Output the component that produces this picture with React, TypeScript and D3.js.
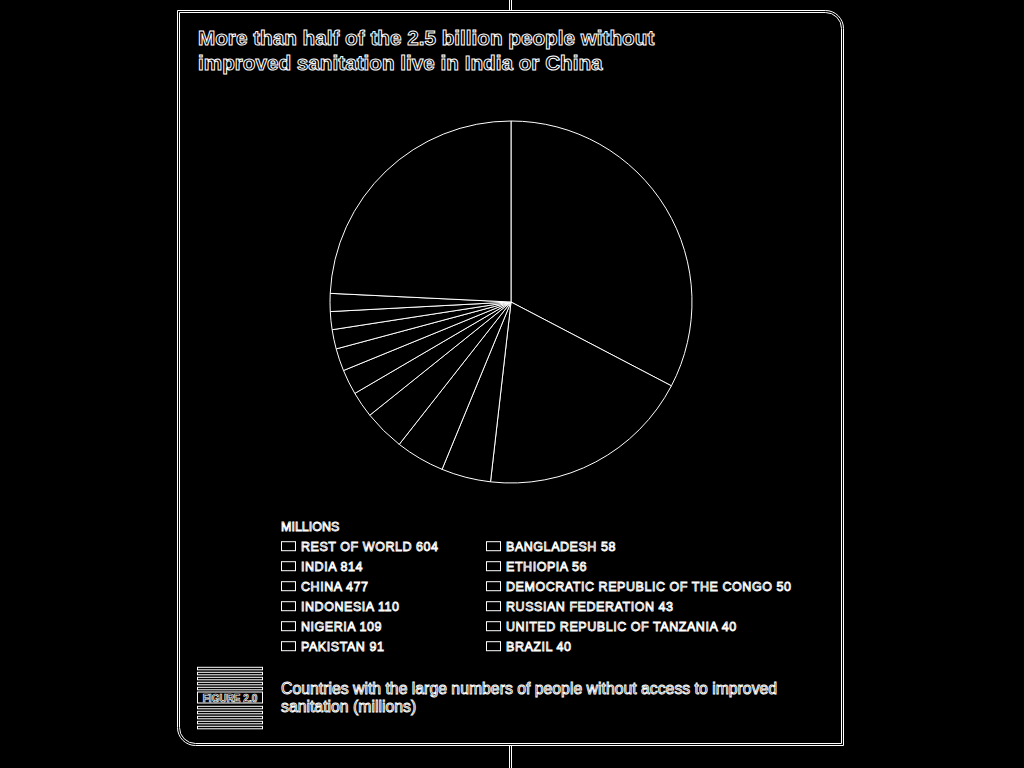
import React from "react";
import * as d3 from "d3";

const titleLines = [
  "More than half of the 2.5 billion people without",
  "improved sanitation live in India or China",
];
const countries = [
  "India",
  "China",
  "Indonesia",
  "Nigeria",
  "Pakistan",
  "Bangladesh",
  "Ethiopia",
  "Democratic Republic of the Congo",
  "Russian Federation",
  "United Republic of Tanzania",
  "Brazil",
  "Rest of World",
];
const values = [814, 477, 110, 109, 91, 58, 56, 50, 43, 40, 40, 604];
const legendTitle = "MILLIONS";
const captionLines = [
  "Countries with the large numbers of people without access to improved",
  "sanitation (millions)",
];
const figureLabel = "FIGURE 2.0";

const W = 1024;
const H = 768;

export default function App() {
  const cx = 511;
  const cy = 302;
  const r = 181;
  const pie = d3
    .pie<number>()
    .sort(null)
    .value((d) => d)
    .startAngle(0)
    .endAngle(2 * Math.PI);
  const arcs = pie(values);
  const arcGen = d3.arc<d3.PieArcDatum<number>>().innerRadius(0).outerRadius(r);

  // legend order: Rest of World first, then the rest in pie order
  const n = countries.length;
  const legendIdx = [n - 1, ...d3.range(0, n - 1)];
  const perCol = 6;
  const colX = [281, 486];
  const rowY = d3.scaleLinear().domain([0, 1]).range([550.7, 570.7]);

  const framePath = (inset: number) => {
    const x0 = 177.5 + inset;
    const y0 = 10.5 + inset;
    const x1 = 843.5 - inset;
    const y1 = 745.5 - inset;
    const rr = 18 - inset;
    return `M${x0},${y0} L${x1 - rr},${y0} A${rr},${rr} 0 0 1 ${x1},${y0 + rr} L${x1},${y1} L${x0 + rr},${y1} A${rr},${rr} 0 0 1 ${x0},${y1 - rr} Z`;
  };

  const stripesTop = d3.range(5).map((i) => 667.3 + i * 5);
  const stripesBottom = d3.range(5).map((i) => 706.3 + i * 5);

  const textStyle = {
    fill: "black",
    stroke: "white",
    strokeWidth: 0.9,
    paintOrder: "fill",
  } as React.CSSProperties;

  return (
    <svg
      width={W}
      height={H}
      style={{ position: "absolute", left: 0, top: 0, background: "black" }}
    >
      <rect x={0} y={0} width={W} height={H} fill="black" />
      {/* connectors */}
      <line x1={509.5} x2={509.5} y1={0} y2={10} stroke="white" />
      <line x1={511.5} x2={511.5} y1={0} y2={10} stroke="white" />
      <line x1={509.5} x2={509.5} y1={746} y2={768} stroke="white" />
      <line x1={511.5} x2={511.5} y1={746} y2={768} stroke="white" />
      {/* frame */}
      <path d={framePath(0)} fill="black" stroke="white" strokeWidth={1} />
      <path d={framePath(2)} fill="none" stroke="white" strokeWidth={1} />

      {/* title */}
      <g fontFamily="'Liberation Sans', Arial, sans-serif" fontWeight="bold" fontSize={20.7}>
        {titleLines.map((t, i) => (
          <text key={i} x={198} y={45 + i * 24.5} style={{ ...textStyle, strokeWidth: 1 }}>
            {t}
          </text>
        ))}
      </g>

      {/* pie */}
      <g transform={`translate(${cx},${cy})`}>
        {arcs.map((a, i) => (
          <path key={i} d={arcGen(a) || ""} fill="black" stroke="white" strokeWidth={1} />
        ))}
      </g>

      {/* legend */}
      <g fontFamily="'Liberation Sans', Arial, sans-serif" fontSize={12.5}>
        <text x={281} y={530.7} style={textStyle}>
          {legendTitle}
        </text>
        {legendIdx.map((ci, k) => {
          const col = Math.floor(k / perCol);
          const row = k % perCol;
          const base = rowY(row);
          return (
            <g key={ci}>
              <rect
                x={colX[col] + 0.5}
                y={base - 9}
                width={14}
                height={9}
                fill="black"
                stroke="white"
                strokeWidth={1}
              />
              <text x={colX[col] + 20} y={base} style={textStyle} letterSpacing={0.55}>
                {`${countries[ci].toUpperCase()} ${values[ci]}`}
              </text>
            </g>
          );
        })}
      </g>

      {/* figure badge */}
      <g>
        {stripesTop.concat(stripesBottom).map((y, i) => (
          <rect key={i} x={197.5} y={y} width={65} height={2.5} fill="black" stroke="white" strokeWidth={1} />
        ))}
        <rect x={197.5} y={692} width={65} height={11} fill="black" stroke="white" strokeWidth={1} />
        <text
          x={230}
          y={701.5}
          textAnchor="middle"
          fontFamily="'Liberation Sans', Arial, sans-serif"
          fontWeight="bold"
          fontSize={10}
          style={{ ...textStyle, strokeWidth: 0.7 }}
        >
          {figureLabel}
        </text>
      </g>

      {/* caption */}
      <g fontFamily="'Liberation Sans', Arial, sans-serif" fontSize={15.8}>
        {captionLines.map((t, i) => (
          <text key={i} x={281} y={694 + i * 18} style={textStyle}>
            {t}
          </text>
        ))}
      </g>
    </svg>
  );
}
